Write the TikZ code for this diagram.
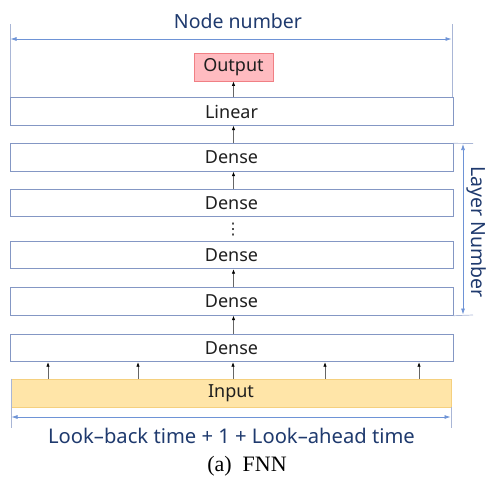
\documentclass[tikz,border=0pt]{standalone}
\usepackage{fontspec}
\setmainfont{Noto Sans}
\newfontfamily\capfont{Liberation Serif}
\newfontfamily\dotfont{DejaVu Sans}
\usetikzlibrary{arrows.meta}
\definecolor{boxline}{HTML}{8497C4}
\definecolor{dimline}{HTML}{6E93D6}
\definecolor{dimtext}{HTML}{1F3A6E}
\definecolor{infill}{HTML}{FFE5A8}
\definecolor{inline}{HTML}{F5D07E}
\definecolor{outfill}{HTML}{FFBBC0}
\definecolor{outline}{HTML}{F07F84}
\begin{document}
\begin{tikzpicture}[x=1pt,y=-1pt,
  boxfont/.style={font=\fontsize{18}{19}\selectfont,text=black!88},
  layerbox/.style={boxfont,draw=boxline,line width=0.9pt,fill=white,minimum width=443pt,minimum height=27.5pt,inner sep=0pt},
  inbox/.style={boxfont,draw=inline,line width=0.9pt,fill=infill,minimum width=440pt,minimum height=28pt,inner sep=0pt},
  outbox/.style={boxfont,draw=outline,line width=0.9pt,fill=outfill,minimum width=79pt,minimum height=28pt,inner sep=0pt},
  flow/.style={draw=black!60,line width=0.7pt,-{Latex[length=4.5pt,width=3.5pt,color=black]}},
  dim/.style={draw=dimline,line width=0.7pt,{Latex[length=6pt,width=4pt]}-{Latex[length=6pt,width=4pt]}},
  guide/.style={draw=boxline!70,line width=0.7pt},
  dimlabel/.style={text=dimtext,font=\fontsize{19.5}{20}\selectfont,inner sep=0pt}
]
\useasboundingbox (0,0) rectangle (487,477);
% boxes
\node[outbox] (out) at (233.5,67) {Output};
\node[layerbox] (lin) at (231.5,111.5) {Linear};
\node[layerbox] (d1) at (231.5,157.5) {Dense};
\node[layerbox] (d2) at (231.5,203) {Dense};
\node[inner sep=0pt,font=\dotfont\fontsize{16}{16}\selectfont,text=black!85] (dots) at (233,230) {⋮};
\node[layerbox] (d3) at (231.5,255) {Dense};
\node[layerbox] (d4) at (231.5,301.5) {Dense};
\node[layerbox] (d5) at (231.5,348) {Dense};
\node[inbox] (in) at (231,393) {Input};
% flow arrows
\draw[flow] (lin.north -| out.south) -- (out.south);
\draw[flow] (d1.north -| out.south) -- (lin.south -| out.south);
\draw[flow] (d2.north -| out.south) -- (d1.south -| out.south);
\draw[flow] (d4.north -| out.south) -- (d3.south -| out.south);
\draw[flow] (d5.north -| out.south) -- (d4.south -| out.south);
\foreach \xx in {48,138,233,325,419}{
  \coordinate (a\xx) at (\xx,0);
  \draw[flow] (in.north -| a\xx) -- (d5.south -| a\xx);
}
% top dimension
\coordinate (tl) at (10,24);
\coordinate (tr) at (452,24);
\draw[guide] (tl) -- (tl |- lin.north);
\draw[guide] (tr) -- (tr |- lin.north);
\coordinate (tal) at (10.5,39);
\coordinate (tar) at (451.5,39);
\draw[dim] (tal) -- (tar);
\node[dimlabel] (nn) at (238,21) {Node number};
% bottom dimension
\coordinate (bl) at (11,428);
\coordinate (br) at (451,428);
\draw[guide] (bl |- in.north) -- (bl);
\draw[guide] (br |- in.south) -- (br);
\coordinate (bal) at (11.5,417);
\coordinate (bar) at (450.5,417);
\draw[dim] (bal) -- (bar);
\node[dimlabel,font=\fontsize{20.2}{21}\selectfont] (lb) at (231.5,436) {Look–back time + 1 + Look–ahead time};
% right dimension
\coordinate (rt) at (473,143.5);
\coordinate (rb) at (473,315);
\draw[guide] (d1.north east) -- (rt);
\draw[guide] (d4.south east) -- (rb);
\coordinate (rat) at (463,144);
\coordinate (rab) at (463,314.5);
\draw[dim] (rat) -- (rab);
\node[dimlabel,rotate=-90] (ln) at (477,232) {Layer Number};
% caption
\node[inner sep=0pt,font=\fontsize{22}{23}\selectfont\capfont] (cap) at (247,466) {(a)\ \ FNN};
\end{tikzpicture}
\end{document}
